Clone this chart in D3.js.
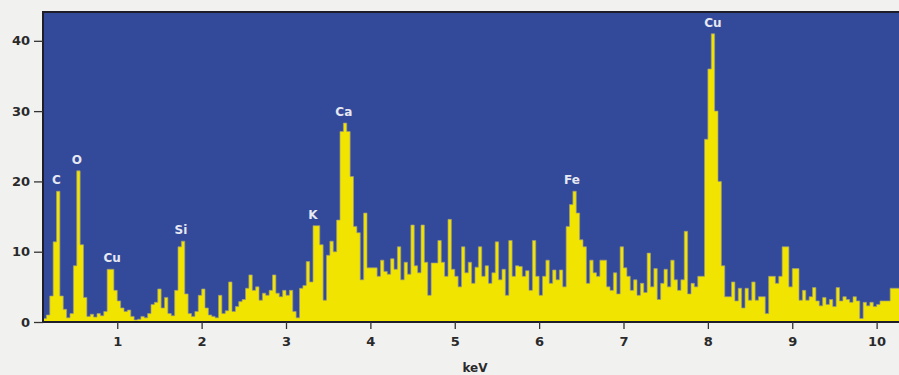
<!DOCTYPE html>
<html>
<head>
<meta charset="utf-8">
<script src="https://cdn.jsdelivr.net/npm/d3@7"></script>
<style>
  body { margin: 0; background: #f1f1f0; }
  svg { display: block; }
</style>
</head>
<body>
<div id="spectrum"></div>
<script>
// spectrum bins, 0.04 keV wide, starting at 0.12 keV
const binStart = 0.12;
const binWidth = 0.04;
const counts = [
  // 0.12 - 0.96
  0.5, 1, 3.7, 11.4, 18.6, 3.7, 1.8, 0.6, 1.2, 8, 21.5, 11, 3.5, 0.8, 1.1, 0.7, 1.2, 0.9, 1.5, 7.5, 7.5, 4.5,
  // 1.00 - 1.96
  3, 2, 1.5, 1.7, 0.8, 0.3, 0.4, 0.8, 0.6, 1.2, 2.5, 2.8, 4.7, 2, 3.5, 1.2, 0.9, 4.5, 10.7, 11.5, 4, 1.2, 0.8, 1.5, 3.8,
  // 2.00 - 2.96
  4.7, 2, 1, 0.8, 0.6, 3.8, 1.2, 1.6, 5.7, 1.5, 2.2, 2.9, 3.2, 4.8, 6.7, 4.5, 5, 3.1, 4.1, 3.8, 4.5, 6.7, 4.1, 3.6, 4.5,
  // 3.00 - 3.96
  3.8, 4.5, 1.5, 0.6, 4.8, 5.2, 8.6, 5.7, 13.7, 13.7, 11, 3.1, 9.5, 11.5, 10, 14.5, 27.1, 28.3, 27.1, 20.7, 13.6, 12.7, 6, 15.5, 7.7,
  // 4.00 - 4.96
  7.7, 7.7, 6.5, 8.8, 7.2, 6.8, 9, 7.5, 10.7, 6, 8.5, 6.8, 13.8, 8, 7, 13.8, 8.5, 3.8, 8.4, 8.4, 11.6, 8.5, 6.5, 14.6, 7.5,
  // 5.00 - 5.96
  6.5, 5, 10.7, 7, 8.5, 5.5, 7.8, 10.7, 6.5, 8, 5.5, 7, 11.4, 6, 7.5, 3.8, 11.6, 6.5, 8, 7.9, 6.5, 7.3, 4.5, 11.6, 6.5,
  // 6.00 - 6.96
  3.8, 6.5, 8.8, 5.5, 7.4, 6, 7.4, 5, 13.6, 16.7, 18.6, 15.5, 11.7, 10.7, 5.5, 8.8, 7, 6.5, 8.8, 8.8, 5, 4.5, 7, 4, 10.7,
  // 7.00 - 7.96
  7.7, 6.5, 4.5, 6, 3.8, 5.5, 4.2, 9.8, 5, 7.6, 3.2, 5.5, 7.5, 5, 8.8, 6, 4.5, 6, 12.9, 4, 5.5, 5, 6.5, 6.5, 26,
  // 8.00 - 8.96
  36, 41, 30, 20, 8, 3.6, 3.6, 5.7, 3, 4.8, 2, 4.8, 3.1, 5.7, 3.1, 3.6, 3.6, 1.2, 6.5, 6.5, 5.5, 6.5, 10.7, 10.7, 5,
  // 9.00 - 9.96
  7.6, 7.6, 3.1, 4.5, 3.1, 3.6, 4.9, 3, 2.3, 3.5, 2.5, 3.2, 2.2, 4.9, 3, 3.6, 3.2, 2.8, 3.6, 3, 0.5, 2.8, 2.3, 2.8, 2.2,
  // 10.00 - 10.28
  2.5, 3, 3, 3, 4.8, 4.8, 4.8, 4.8
];

// element labels: name, energy (keV), peak height
const peakNames = ["C", "O", "Cu", "Si", "K", "Ca", "Fe", "Cu"];
const peakKeV = [0.28, 0.52, 0.94, 1.755, 3.32, 3.685, 6.39, 8.06];
const peakHeight = [18.6, 21.5, 7.5, 11.5, 13.7, 28.3, 18.6, 41];

const xTicks = [1, 2, 3, 4, 5, 6, 7, 8, 9, 10];
const yTicks = [0, 10, 20, 30, 40];

const width = 899, height = 375;
const margin = { top: 12, right: -8, bottom: 53, left: 43 };

const x = d3.scaleLinear()
  .domain([0.12, 10.36])
  .range([margin.left, width - margin.right]);
const y = d3.scaleLinear()
  .domain([0, 44.1])
  .range([height - margin.bottom, margin.top]);

const svg = d3.select("#spectrum")
  .append("svg")
  .attr("width", width)
  .attr("height", height)
  .style("font-family", "Verdana, 'DejaVu Sans', sans-serif");

svg.append("clipPath").attr("id", "plotclip")
  .append("rect")
  .attr("x", x.range()[0]).attr("y", y.range()[1])
  .attr("width", x.range()[1] - x.range()[0])
  .attr("height", y.range()[0] - y.range()[1]);

// plot background
svg.append("rect")
  .attr("x", x.range()[0]).attr("y", y.range()[1])
  .attr("width", x.range()[1] - x.range()[0])
  .attr("height", y.range()[0] - y.range()[1])
  .attr("fill", "#334a9a");

// step data: one point per bin edge
const steps = counts.map((c, i) => [binStart + i * binWidth, c]);
steps.push([binStart + counts.length * binWidth, counts[counts.length - 1]]);

const plot = svg.append("g").attr("clip-path", "url(#plotclip)");

plot.append("path")
  .attr("d", d3.area()
    .curve(d3.curveStepAfter)
    .x(d => x(d[0]))
    .y0(y(0))
    .y1(d => y(d[1]))(steps))
  .attr("fill", "#f0e400");

plot.append("path")
  .attr("d", d3.line()
    .curve(d3.curveStepAfter)
    .x(d => x(d[0]))
    .y(d => y(d[1]))(steps))
  .attr("fill", "none")
  .attr("stroke", "#9c9a80")
  .attr("stroke-opacity", 0.7)
  .attr("stroke-width", 1);

// peak labels
svg.selectAll("text.peak")
  .data(peakNames)
  .enter().append("text")
  .attr("class", "peak")
  .attr("x", (d, i) => x(peakKeV[i]))
  .attr("y", (d, i) => y(peakHeight[i]) - 7)
  .attr("text-anchor", "middle")
  .attr("fill", "#e6e8f2")
  .style("font-size", "12px")
  .style("font-weight", "bold")
  .text(d => d);

// frame
svg.append("path")
  .attr("d", "M" + x.range()[1] + "," + y.range()[1] + "H" + x.range()[0] + "V" + y.range()[0] + "H" + x.range()[1])
  .attr("fill", "none")
  .attr("stroke", "#1e1e28")
  .attr("stroke-width", 2);

// axes
const xAxis = svg.append("g")
  .attr("transform", "translate(0," + y(0) + ")")
  .call(d3.axisBottom(x).tickValues(xTicks).tickSize(7).tickPadding(8).tickFormat(d3.format("d")));
const yAxis = svg.append("g")
  .attr("transform", "translate(" + x.range()[0] + ",0)")
  .call(d3.axisLeft(y).tickValues(yTicks).tickSize(9).tickPadding(4));

[xAxis, yAxis].forEach(a => {
  a.select(".domain").remove();
  a.selectAll("line").attr("stroke", "#333").attr("stroke-width", 1.3);
  a.selectAll("text")
    .attr("fill", "#2a2a2a")
    .style("font-family", "Verdana, 'DejaVu Sans', sans-serif")
    .style("font-size", "13px")
    .style("font-weight", "bold");
});

svg.append("text")
  .attr("x", (x.range()[0] + x.range()[1]) / 2)
  .attr("y", 372)
  .attr("text-anchor", "middle")
  .attr("fill", "#2a2a2a")
  .style("font-size", "12px")
  .style("font-weight", "bold")
  .text("keV");
</script>
</body>
</html>
